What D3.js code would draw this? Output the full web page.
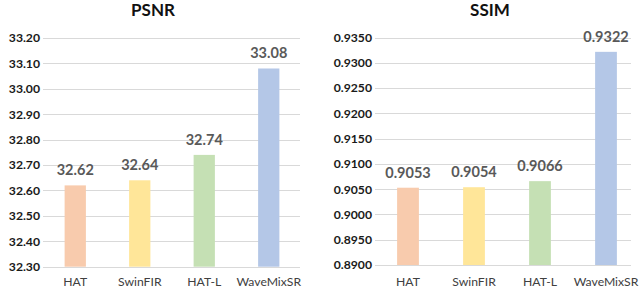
<!DOCTYPE html>
<html>
<head>
<meta charset="utf-8">
<script src="https://cdn.jsdelivr.net/npm/d3@7"></script>
<style>
  body { margin: 0; background: #fff; }
  svg { display: block; }
</style>
</head>
<body>
<div class="chart"></div>
<script>
const methods = ["HAT", "SwinFIR", "HAT-L", "WaveMixSR"];
const barColors = ["#f8cbad", "#ffe699", "#c5e0b4", "#b4c7e7"];
const psnrValues = [32.62, 32.64, 32.74, 33.08];
const ssimValues = [0.9053, 0.9054, 0.9066, 0.9322];
const psnrTicks = [32.3, 32.4, 32.5, 32.6, 32.7, 32.8, 32.9, 33.0, 33.1, 33.2];
const ssimTicks = [0.89, 0.895, 0.9, 0.905, 0.91, 0.915, 0.92, 0.925, 0.93, 0.935];

const svg = d3.select(".chart").append("svg")
  .attr("width", 640)
  .attr("height", 289);

function drawPanel(opts) {
  const g = svg.append("g");
  const ticks = opts.ticks;
  const y = d3.scaleLinear()
    .domain([ticks[0], ticks[ticks.length - 1]])
    .range([opts.bottom, opts.top]);
  const x = d3.scaleBand()
    .domain(methods)
    .range([opts.left, opts.right])
    .paddingInner(0.67)
    .paddingOuter(0.335);

  // gridlines
  g.selectAll("line.grid")
    .data(ticks)
    .enter()
    .append("line")
    .attr("x1", opts.left)
    .attr("x2", opts.gridRight)
    .attr("y1", d => Math.round(y(d)) + 0.5)
    .attr("y2", d => Math.round(y(d)) + 0.5)
    .attr("stroke", "#d9d9d9")
    .attr("stroke-width", 1);

  // y tick labels
  g.selectAll("text.ytick")
    .data(ticks)
    .enter()
    .append("text")
    .attr("x", opts.left - 3)
    .attr("y", d => y(d))
    .attr("dy", "0.35em")
    .attr("text-anchor", "end")
    .attr("font-family", "Lato, 'Open Sans', sans-serif")
    .attr("font-weight", "bold")
    .attr("font-size", 12.2)
    .attr("fill", "#1a1a1a")
    .text(d => d.toFixed(opts.decimals));

  // bars
  g.selectAll("rect")
    .data(opts.values)
    .enter()
    .append("rect")
    .attr("x", (d, i) => x(methods[i]))
    .attr("width", x.bandwidth())
    .attr("y", d => y(d))
    .attr("height", d => opts.bottom - y(d))
    .attr("fill", (d, i) => barColors[i]);

  // value labels
  g.selectAll("text.value")
    .data(opts.values)
    .enter()
    .append("text")
    .attr("x", (d, i) => x(methods[i]) + x.bandwidth() / 2)
    .attr("y", d => y(d) - 10)
    .attr("text-anchor", "middle")
    .attr("font-family", "Lato, 'Open Sans', sans-serif")
    .attr("font-weight", "bold")
    .attr("font-size", 14.5)
    .attr("fill", "#595959")
    .text(d => d.toFixed(opts.valueDecimals));

  // category labels
  g.selectAll("text.cat")
    .data(methods)
    .enter()
    .append("text")
    .attr("x", d => x(d) + x.bandwidth() / 2)
    .attr("y", 286)
    .attr("text-anchor", "middle")
    .attr("font-family", "Lato, 'Open Sans', sans-serif")
    .attr("font-size", 12.2)
    .attr("fill", "#404040")
    .text(d => d);

  // title
  g.append("text")
    .attr("x", opts.titleX)
    .attr("y", 16)
    .attr("text-anchor", "middle")
    .attr("font-family", "Lato, 'Open Sans', sans-serif")
    .attr("font-weight", "bold")
    .attr("font-size", 17)
    .attr("fill", "#111")
    .text(opts.title);
}

drawPanel({
  title: "PSNR", titleX: 153,
  values: psnrValues, ticks: psnrTicks, decimals: 2, valueDecimals: 2,
  left: 43, right: 301, gridRight: 300, top: 38, bottom: 266.7
});

drawPanel({
  title: "SSIM", titleX: 490,
  values: ssimValues, ticks: ssimTicks, decimals: 4, valueDecimals: 4,
  left: 375, right: 639, gridRight: 631, top: 37.7, bottom: 265
});
</script>
</body>
</html>
